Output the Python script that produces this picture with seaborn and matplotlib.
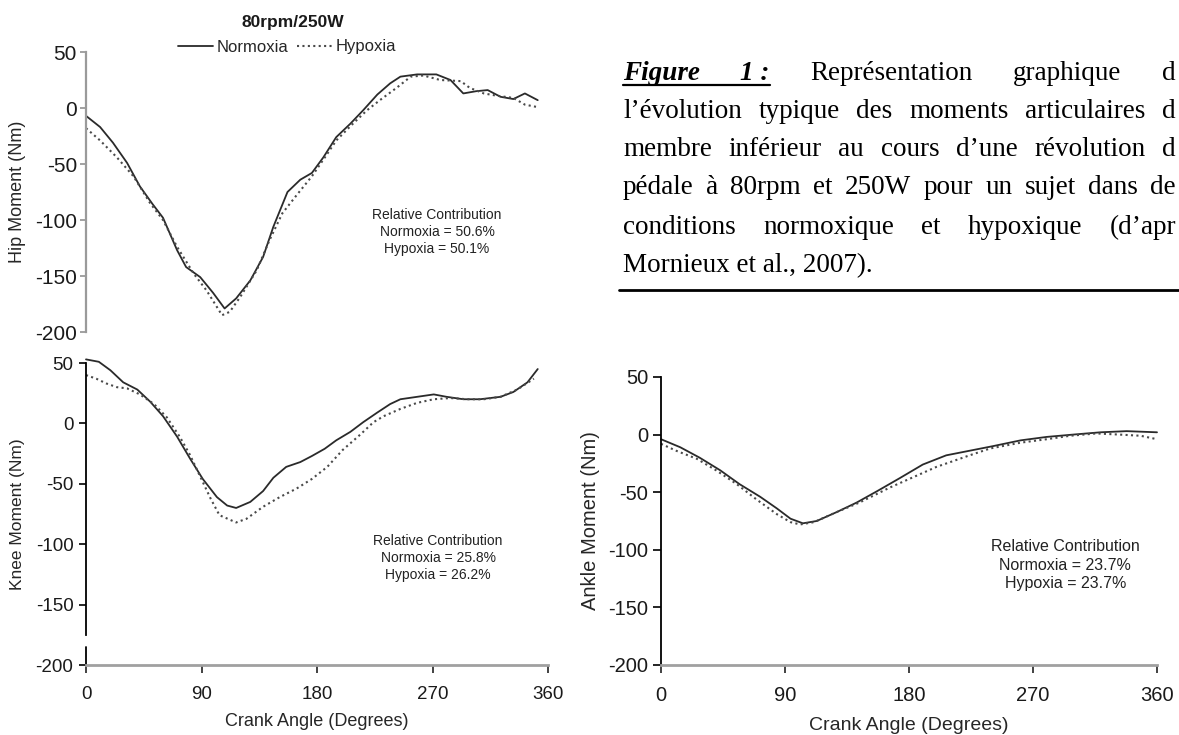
import matplotlib
matplotlib.use("Agg")
import matplotlib.pyplot as plt
from matplotlib.lines import Line2D
import seaborn as sns

# Valeurs : angle de manivelle (degrés) et moment articulaire (Nm)
hip_norm_deg = [0, 11, 21, 32, 42, 52, 60, 71, 78, 89, 99, 108, 117, 128, 138, 146, 157, 167,
                176, 185, 195, 206, 216, 227, 237, 245, 258, 273, 284, 294, 304, 313, 323, 333, 342, 352]
hip_norm = [-7, -17, -31, -49, -70, -86, -98, -127, -142, -151, -165, -179, -170, -154, -133, -106, -75, -64,
            -58, -44, -26, -14, -2, 12, 22, 28, 30, 30, 25, 13, 15, 16, 10, 8, 13, 7]
hip_hyp_deg = [0, 11, 24, 37, 50, 60, 71, 84, 94, 106, 112, 120, 133, 143, 153, 164, 176, 185,
               195, 208, 219, 229, 242, 253, 263, 276, 292, 299, 310, 320, 333, 342, 351]
hip_hyp = [-18, -29, -44, -61, -85, -100, -124, -148, -163, -185, -182, -169, -145, -118, -94, -78, -61, -46,
           -29, -14, -2, 7, 18, 28, 29, 25, 24, 18, 13, 11, 9, 3, 1]

knee_norm_deg = [0, 10, 19, 29, 40, 50, 60, 71, 81, 91, 102, 110, 117, 128, 138, 146, 156, 167,
                 176, 186, 195, 206, 216, 227, 237, 245, 258, 271, 281, 294, 307, 323, 333, 344, 352]
knee_norm = [53, 51, 44, 34, 28, 18, 6, -11, -29, -46, -61, -68, -70, -65, -56, -45, -36, -32,
             -27, -21, -14, -7, 1, 9, 16, 20, 22, 24, 22, 20, 20, 22, 26, 34, 45]
knee_hyp_deg = [0, 8, 16, 24, 32, 42, 53, 63, 73, 81, 89, 97, 104, 117, 125, 138, 151, 164,
                176, 188, 200, 214, 224, 232, 245, 258, 271, 284, 297, 310, 323, 336, 349]
knee_hyp = [40, 37, 33, 30, 29, 24, 16, 5, -11, -26, -44, -62, -76, -82, -79, -69, -61, -54,
            -46, -36, -22, -9, 1, 6, 12, 17, 20, 21, 20, 20, 22, 28, 37]

ankle_norm_deg = [0, 14, 28, 43, 57, 72, 84, 94, 103, 113, 128, 142, 157, 173, 190, 207, 224, 241,
                  261, 280, 299, 319, 338, 360]
ankle_norm = [-4, -11, -20, -31, -43, -54, -64, -73, -77, -75, -67, -59, -49, -38, -26, -18, -14, -10,
              -5, -2, 0, 2, 3, 2]
ankle_hyp_deg = [0, 11, 26, 40, 55, 69, 84, 94, 101, 111, 128, 144, 166, 183, 200, 224, 239, 261,
                 280, 297, 316, 333, 348, 360]
ankle_hyp = [-8, -14, -21, -31, -43, -56, -69, -76, -78, -76, -67, -59, -46, -37, -28, -18, -12, -7,
             -4, -1, 1, 0, -1, -4]

x_ticks = [0, 90, 180, 270, 360]
y_ticks = [-200, -150, -100, -50, 0, 50]

hip_contrib = ["50.6%", "50.1%"]
knee_contrib = ["25.8%", "26.2%"]
ankle_contrib = ["23.7%", "23.7%"]

# texte de la légende tel qu'il est visible (coupé au bord droit de l'image)
caption_lines = [
    ["Représentation", "graphique", "d"],
    ["l’évolution", "typique", "des", "moments", "articulaires", "d"],
    ["membre", "inférieur", "au", "cours", "d’une", "révolution", "d"],
    ["pédale", "à", "80rpm", "et", "250W", "pour", "un", "sujet", "dans", "de"],
    ["conditions", "normoxique", "et", "hypoxique", "(d’apr"],
]
caption_last = "Mornieux et al., 2007)."

sns.set_style("white")
plt.rcParams["font.family"] = ["Liberation Sans", "DejaVu Sans"]
plt.rcParams["axes.unicode_minus"] = False

W, H = 1179, 735
fig = plt.figure(figsize=(W / 100, H / 100), dpi=100)


def box(l, t, r, b):
    return [l / W, 1 - b / H, (r - l) / W, (b - t) / H]


ax_hip = fig.add_axes(box(86, 52, 548, 332))
ax_knee = fig.add_axes(box(86, 363, 548, 665))
ax_ankle = fig.add_axes(box(661, 377, 1157, 665))

SOLID = "#2a2a2a"
DOTTED = "#4a4a4a"
DOTS = (0, (1, 1.6))


def draw(ax, xn, yn, xh, yh):
    sns.lineplot(x=xn, y=yn, ax=ax, color=SOLID, linewidth=1.3, sort=False, estimator=None,
                 label="Normoxia", clip_on=False)
    sns.lineplot(x=xh, y=yh, ax=ax, color=DOTTED, linewidth=1.5, linestyle=DOTS, sort=False,
                 estimator=None, label="Hypoxia", clip_on=False)
    ax.get_legend().remove()
    ax.set_xlim(0, 360)
    ax.set_ylim(-200, 50)
    ax.set_yticks(y_ticks)
    ax.set_xticks(x_ticks)
    ax.set_facecolor("none")
    sns.despine(ax=ax)


draw(ax_hip, hip_norm_deg, hip_norm, hip_hyp_deg, hip_hyp)
draw(ax_knee, knee_norm_deg, knee_norm, knee_hyp_deg, knee_hyp)
draw(ax_ankle, ankle_norm_deg, ankle_norm, ankle_hyp_deg, ankle_hyp)

# Hanche : seul l'axe vertical (gris)
ax_hip.spines["bottom"].set_visible(False)
ax_hip.spines["left"].set_color("#9a9a9a")
ax_hip.spines["left"].set_linewidth(1.6)
ax_hip.tick_params(axis="x", bottom=False, labelbottom=False)
ax_hip.tick_params(axis="y", colors="#9a9a9a", labelcolor="#1a1a1a", length=4, width=1.3,
                   pad=2.5, labelsize=15, left=True)
ax_hip.set_xlabel("")
ax_hip.set_ylabel("Hip Moment (Nm)", fontsize=13, va="center")
ax_hip.yaxis.set_label_coords((18 - 86) / 462, 0.5)

# Genou : axe vertical interrompu au-dessus de -200
ax_knee.spines["left"].set_color("black")
ax_knee.spines["left"].set_linewidth(1.3)
ax_knee.spines["left"].set_bounds(-175, 50)
ax_knee.axvline(0, ymin=0, ymax=15 / 250, color="black", linewidth=1.3, clip_on=False)
ax_knee.spines["bottom"].set_color("#a0a0a0")
ax_knee.spines["bottom"].set_linewidth(2)
ax_knee.tick_params(axis="y", colors="black", labelcolor="#1a1a1a", length=5, width=1.2,
                    pad=4, labelsize=13.5, left=True)
ax_knee.tick_params(axis="x", colors="#333333", labelcolor="#1a1a1a", length=6, width=1.3,
                    pad=9, labelsize=13.5, bottom=True)
ax_knee.set_ylabel("Knee Moment (Nm)", fontsize=12.5, va="center")
ax_knee.yaxis.set_label_coords((18 - 86) / 462, 0.5)
ax_knee.set_xlabel("Crank Angle (Degrees)", fontsize=13, va="center")
ax_knee.xaxis.set_label_coords(0.5, (665 - 722) / 302)

# Cheville
ax_ankle.spines["left"].set_color("black")
ax_ankle.spines["left"].set_linewidth(1.3)
ax_ankle.spines["bottom"].set_color("#a0a0a0")
ax_ankle.spines["bottom"].set_linewidth(2)
ax_ankle.tick_params(axis="y", colors="black", labelcolor="#1a1a1a", length=5.5, width=1.2,
                     pad=3.5, labelsize=14.5, left=True)
ax_ankle.tick_params(axis="x", colors="#333333", labelcolor="#1a1a1a", length=6, width=1.3,
                     pad=9, labelsize=14.5, bottom=True)
ax_ankle.set_ylabel("Ankle Moment (Nm)", fontsize=14.5, va="center")
ax_ankle.yaxis.set_label_coords((590 - 661) / 496, 0.5)
ax_ankle.set_xlabel("Crank Angle (Degrees)", fontsize=14, va="center")
ax_ankle.xaxis.set_label_coords(0.5, (665 - 726) / 288)

# Contributions relatives
for ax, vals, pos, fs in [(ax_hip, hip_contrib, (0.76, 0.357), 10),
                          (ax_knee, knee_contrib, (0.762, 0.354), 10),
                          (ax_ankle, ankle_contrib, (0.815, 0.347), 11.5)]:
    ax.text(pos[0], pos[1],
            f"Relative Contribution\nNormoxia = {vals[0]}\nHypoxia = {vals[1]}",
            transform=ax.transAxes, ha="center", va="center", multialignment="center",
            fontsize=fs, linespacing=1.3, color="#222222")

# Titre et légende
fig.text(293 / W, 1 - 22 / H, "80rpm/250W", ha="center", va="center",
         fontsize=12.5, fontweight="bold", color="#1a1a1a")
fig.legend(handles=ax_hip.get_lines()[:2], labels=["Normoxia", "Hypoxia"], loc="center",
           bbox_to_anchor=(287 / W, 1 - 47 / H), ncol=2, frameon=False, fontsize=12,
           handlelength=2.1, handletextpad=0.25, columnspacing=0.5, borderpad=0)

# Légende de la figure (texte justifié)
renderer = fig.canvas.get_renderer()
serif = ["Liberation Serif", "DejaVu Serif"]
cap_fs = 19.5
left_px, right_px = 623, 1176
line_y = [73, 111, 149, 188, 227, 266]


def justify(words, y, styles=None):
    texts = []
    for i, w in enumerate(words):
        kw = dict(fontsize=cap_fs, family=serif, va="center", ha="left", color="black")
        if styles and i < len(styles) and styles[i]:
            kw.update(fontweight="bold", fontstyle="italic")
        texts.append(fig.text(0, 1 - y / H, w, **kw))
    widths = [t.get_window_extent(renderer).width for t in texts]
    gap = (right_px - left_px - sum(widths)) / (len(words) - 1)
    x = left_px
    spans = []
    for t, wd in zip(texts, widths):
        t.set_x(x / W)
        spans.append((x, x + wd))
        x += wd + gap
    return spans


spans = justify(["Figure", "1 :"] + caption_lines[0], line_y[0], styles=[True, True])
fig.add_artist(Line2D([spans[0][0] / W, spans[1][1] / W], [1 - 85 / H, 1 - 85 / H],
                      transform=fig.transFigure, color="black", linewidth=1.6))
for words, y in zip(caption_lines[1:], line_y[1:5]):
    justify(words, y)
fig.text(left_px / W, 1 - line_y[5] / H, caption_last, fontsize=cap_fs, family=serif,
         va="center", ha="left", color="black")
fig.add_artist(Line2D([619 / W, 1.0], [1 - 290 / H, 1 - 290 / H],
                      transform=fig.transFigure, color="black", linewidth=2))

fig.savefig("out.png", dpi=100)
plt.close(fig)
